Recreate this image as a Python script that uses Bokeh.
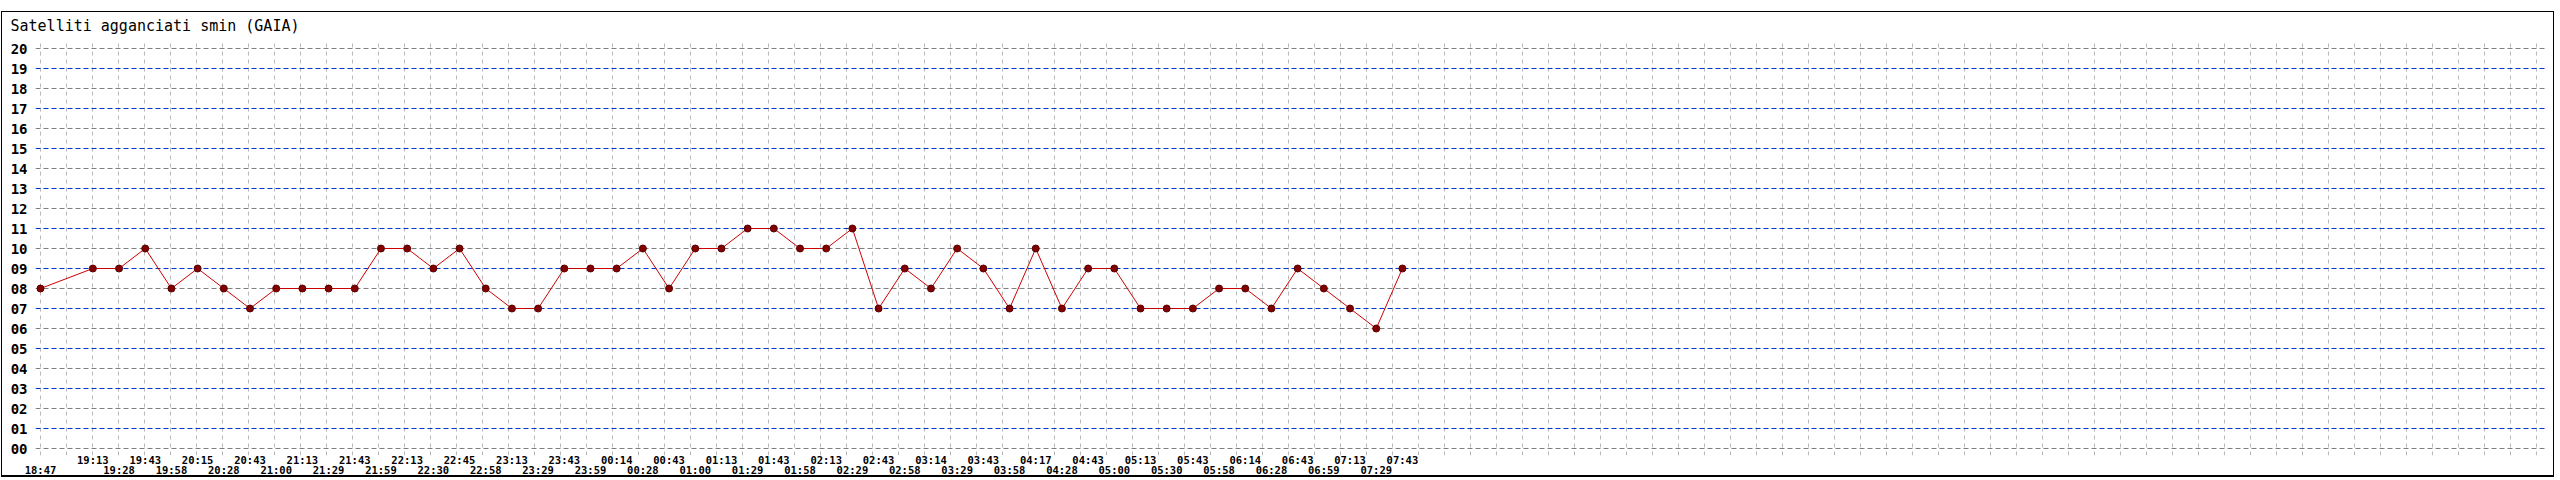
from bokeh.plotting import figure
from bokeh.models import (Range1d, FixedTicker, Grid, LinearAxis,
                          PrintfTickFormatter, ColumnDataSource)
from bokeh.embed import file_html
from bokeh.resources import INLINE

chart_title = "Satelliti agganciati smin (GAIA)"

# reading slot (slot 1 had no reading), time of the reading, satellites locked
slots = [0, 2, 3, 4, 5, 6, 7, 8, 9, 10, 11, 12, 13, 14, 15, 16, 17, 18, 19,
         20, 21, 22, 23, 24, 25, 26, 27, 28, 29, 30, 31, 32, 33, 34, 35, 36,
         37, 38, 39, 40, 41, 42, 43, 44, 45, 46, 47, 48, 49, 50, 51, 52]
times = ["18:47", "19:13", "19:28", "19:43", "19:58", "20:15", "20:28", "20:43",
         "21:00", "21:13", "21:29", "21:43", "21:59", "22:13", "22:30", "22:45",
         "22:58", "23:13", "23:29", "23:43", "23:59", "00:14", "00:28", "00:43",
         "01:00", "01:13", "01:29", "01:43", "01:58", "02:13", "02:29", "02:43",
         "02:58", "03:14", "03:29", "03:43", "03:58", "04:17", "04:28", "04:43",
         "05:00", "05:13", "05:30", "05:43", "05:58", "06:14", "06:28", "06:43",
         "06:59", "07:13", "07:29", "07:43"]
sats = [8, 9, 9, 10, 8, 9, 8, 7, 8, 8, 8, 8, 10, 10, 9, 10, 8, 7, 7, 9, 9, 9,
        10, 8, 10, 10, 11, 11, 10, 10, 11, 7, 9, 8, 10, 9, 7, 10, 7, 9, 9, 7,
        7, 7, 8, 8, 7, 9, 8, 7, 6, 9]

y_ticks = list(range(0, 21))

FONT = "DejaVu Sans Mono"

source = ColumnDataSource(data=dict(slot=slots, sats=sats, time=times))

# the page body has no margin (bokeh template), so the framed box is offset by css
p = figure(width=2553, height=466,
           x_range=Range1d(-0.19, 95.72), y_range=Range1d(-0.35, 20.40),
           output_backend="svg", toolbar_location=None,
           min_border_left=33, min_border_right=8,
           min_border_top=28, min_border_bottom=22,
           styles={"margin-left": "1px", "margin-top": "11px",
                   "border": "1px solid black", "border-bottom": "2px solid black"})
p.outline_line_color = None
p.background_fill_color = "white"
p.border_fill_color = "white"

p.title.text = chart_title
p.title.align = "left"
p.title.vertical_align = "top"
p.title.offset = -25
p.title.text_font = FONT
p.title.text_font_size = "15px"
p.title.text_font_style = "normal"
p.title.text_color = "black"
p.title.standoff = 8

# y axis, labels as 00..20
p.yaxis.ticker = FixedTicker(ticks=y_ticks)
p.yaxis.formatter = PrintfTickFormatter(format="%02d")
p.yaxis.axis_line_color = None
p.yaxis.major_tick_line_color = None
p.yaxis.minor_tick_line_color = None
p.yaxis.major_tick_out = 0
p.yaxis.major_label_standoff = 8
p.yaxis.major_label_text_font = FONT
p.yaxis.major_label_text_font_size = "14px"
p.yaxis.major_label_text_font_style = "bold"
p.yaxis.major_label_text_color = "black"

# horizontal grid: even rows grey, odd rows blue
p.ygrid.ticker = FixedTicker(ticks=[t for t in y_ticks if t % 2 == 0])
p.ygrid.grid_line_color = "#808080"
p.ygrid.grid_line_dash = "5 3"
p.ygrid.grid_line_width = 1
odd_grid = Grid(dimension=1, ticker=FixedTicker(ticks=[t for t in y_ticks if t % 2 == 1]),
                grid_line_color="#0033cc", grid_line_dash="5 3", grid_line_width=1)
p.add_layout(odd_grid)

# vertical grid: fixed pixel pitch, a bit tighter than the reading slots
grid_step = 26.0 / 26.19
p.xgrid.ticker = FixedTicker(ticks=[k * grid_step for k in range(97)])
p.xgrid.grid_line_color = "#b8b8b8"
p.xgrid.grid_line_dash = "4 4"
p.xgrid.grid_line_width = 1

# two staggered rows of time labels
upper = {s: t for i, (s, t) in enumerate(zip(slots, times)) if i % 2 == 1}
lower = {s: t for i, (s, t) in enumerate(zip(slots, times)) if i % 2 == 0}


def style_time_axis(ax, labels, standoff):
    ax.ticker = FixedTicker(ticks=list(labels.keys()))
    ax.major_label_overrides = labels
    ax.axis_line_color = None
    ax.major_tick_line_color = None
    ax.minor_tick_line_color = None
    ax.major_tick_out = 0
    ax.major_tick_in = 0
    ax.major_label_standoff = standoff
    ax.major_label_text_font = FONT
    ax.major_label_text_font_size = "10.5px"
    ax.major_label_text_font_style = "bold"
    ax.major_label_text_color = "black"


style_time_axis(p.xaxis[0], upper, -2)
low_axis = LinearAxis()
style_time_axis(low_axis, lower, -5)
p.add_layout(low_axis, "below")

p.line(x="slot", y="sats", source=source, line_color="#cc0000", line_width=1)
p.scatter(x="slot", y="sats", source=source, size=7,
          fill_color="#800000", line_color="#5a0000", line_width=1)

open("out.html", "w").write(file_html(p, INLINE))
